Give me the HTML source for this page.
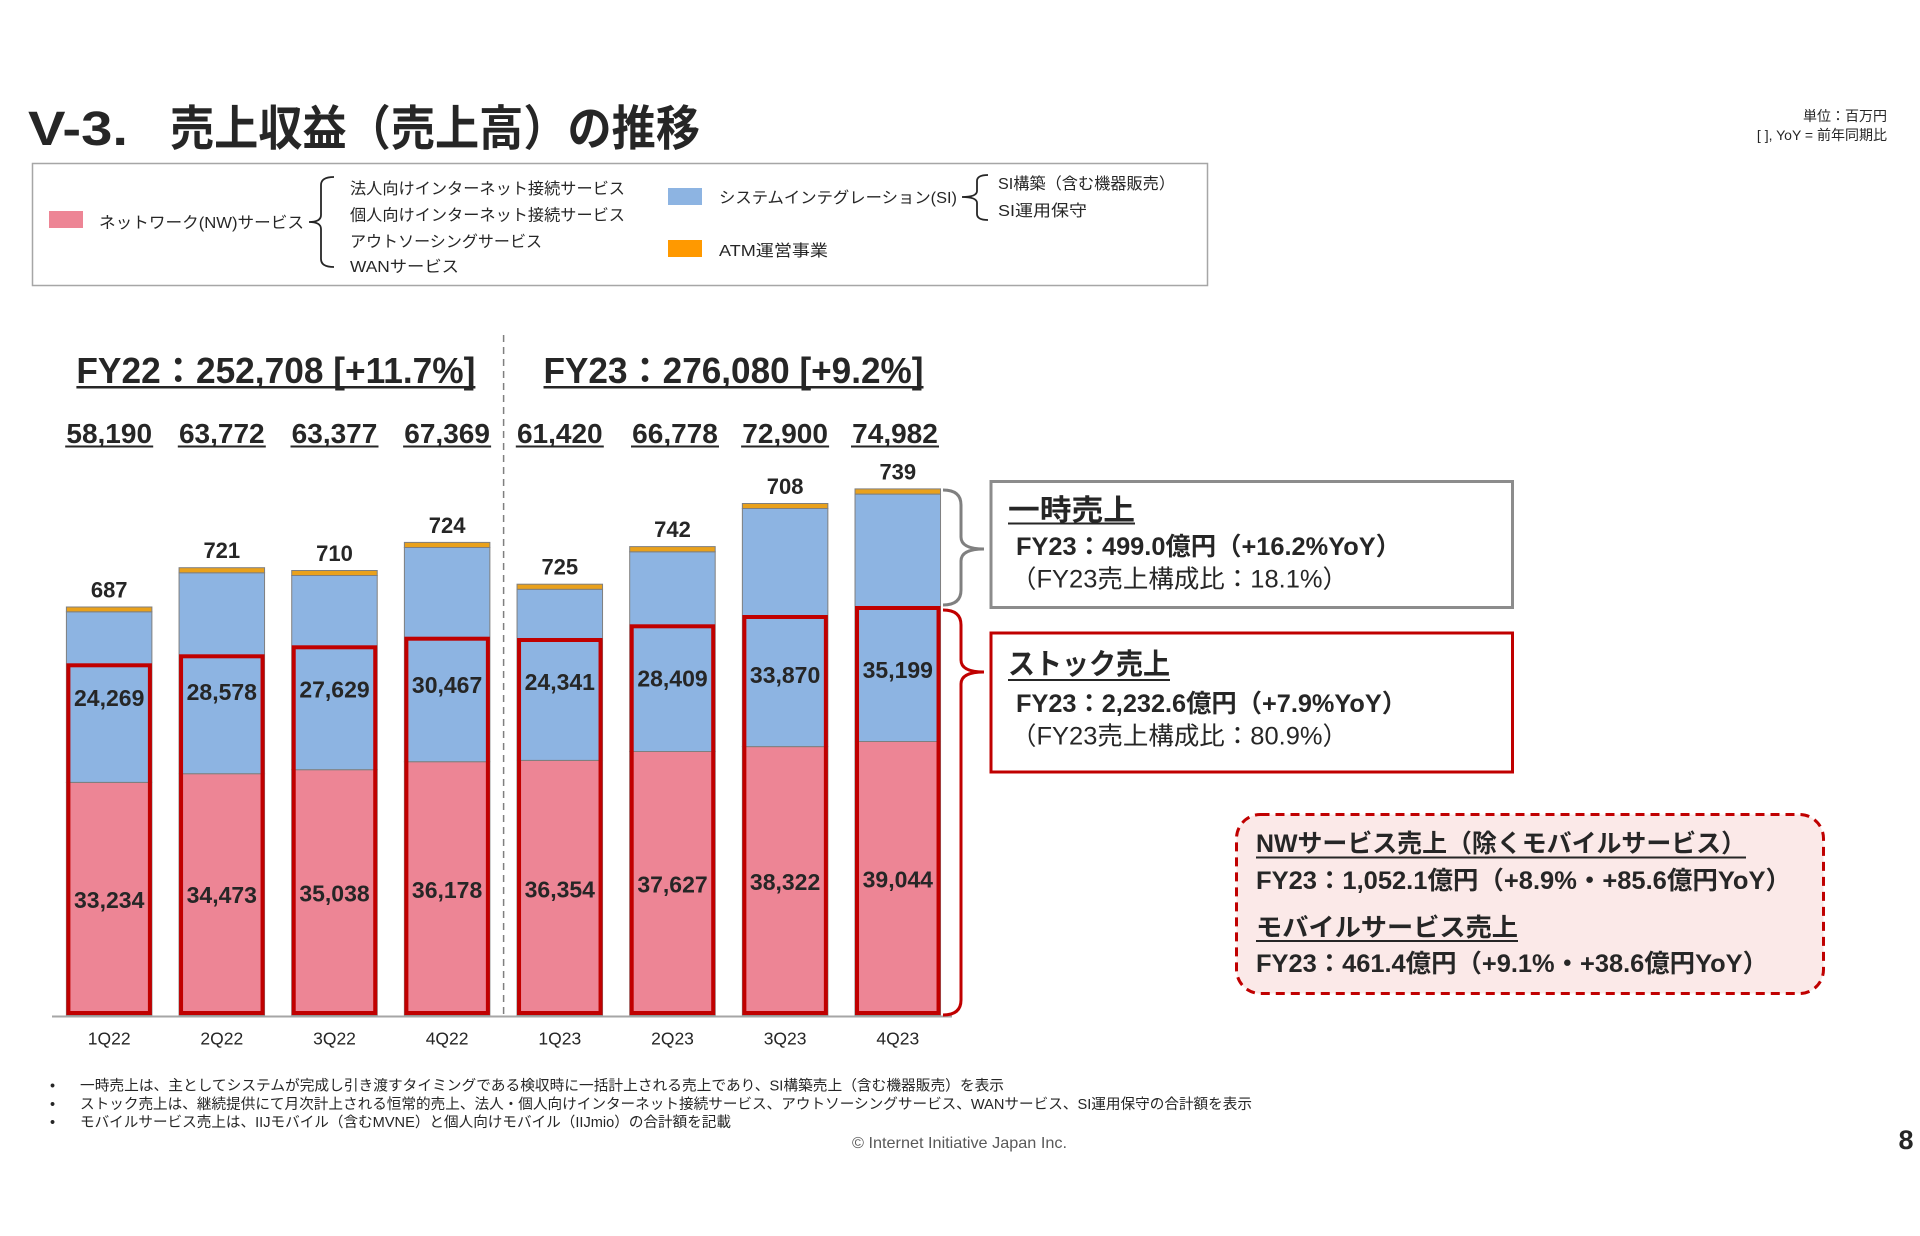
<!DOCTYPE html>
<html><head><meta charset="utf-8"><style>
html,body{margin:0;padding:0;background:#fff;}
svg{display:block;}
text{font-family:"Liberation Sans","Noto Sans CJK JP",sans-serif;fill:#262626;}
.b{font-weight:bold;}
</style></head><body>
<svg width="1920" height="1236" viewBox="0 0 1920 1236" xmlns="http://www.w3.org/2000/svg">
<!-- Title -->
<text x="28" y="145" font-size="48" class="b" textLength="100" lengthAdjust="spacingAndGlyphs">V-3.</text>
<text x="170" y="145" font-size="48" class="b" textLength="530" lengthAdjust="spacingAndGlyphs">売上収益（売上高）の推移</text>
<text x="1887" y="121" font-size="14" text-anchor="end">単位：百万円</text>
<text x="1887" y="140" font-size="14" text-anchor="end">[ ], YoY = 前年同期比</text>

<!-- Legend -->
<rect x="32.5" y="163.5" width="1175" height="122" fill="#fff" stroke="#A6A6A6" stroke-width="1.5"/>
<rect x="49" y="211" width="34" height="17" fill="#ED8595"/>
<text x="99" y="228" font-size="16" textLength="205" lengthAdjust="spacingAndGlyphs">ネットワーク(NW)サービス</text>
<path d="M334,177 Q321,177 321,185 L321,215 Q321,222 309,222 Q321,222 321,229 L321,259 Q321,267 334,267" fill="none" stroke="#262626" stroke-width="1.8"/>
<text x="350" y="194" font-size="16" textLength="275" lengthAdjust="spacingAndGlyphs">法人向けインターネット接続サービス</text>
<text x="350" y="220.5" font-size="16" textLength="275" lengthAdjust="spacingAndGlyphs">個人向けインターネット接続サービス</text>
<text x="350" y="247" font-size="16" textLength="192" lengthAdjust="spacingAndGlyphs">アウトソーシングサービス</text>
<text x="350" y="272" font-size="16" textLength="109" lengthAdjust="spacingAndGlyphs">WANサービス</text>
<rect x="668" y="188" width="34" height="17" fill="#8DB4E2"/>
<text x="719" y="203" font-size="16" textLength="238" lengthAdjust="spacingAndGlyphs">システムインテグレーション(SI)</text>
<path d="M988,175 Q977,175 977,181 L977,191 Q977,197 962,197 Q977,197 977,203 L977,214 Q977,220 988,220" fill="none" stroke="#262626" stroke-width="1.8"/>
<text x="998" y="189" font-size="16" textLength="177" lengthAdjust="spacingAndGlyphs">SI構築（含む機器販売）</text>
<text x="998" y="216" font-size="16" textLength="89" lengthAdjust="spacingAndGlyphs">SI運用保守</text>
<rect x="668" y="240" width="34" height="17" fill="#FF9900"/>
<text x="719" y="256" font-size="16" textLength="109" lengthAdjust="spacingAndGlyphs">ATM運営事業</text>

<!-- FY headings -->
<text x="76.4" y="383" font-size="36" class="b" textLength="399" lengthAdjust="spacingAndGlyphs">FY22：252,708 [+11.7%]</text>
<rect x="76.4" y="386" width="399" height="2.5" fill="#262626"/>
<text x="543.5" y="383" font-size="36" class="b" textLength="380" lengthAdjust="spacingAndGlyphs">FY23：276,080 [+9.2%]</text>
<rect x="543.5" y="386" width="380" height="2.5" fill="#262626"/>

<!-- Quarter totals -->
<g font-size="28" class="b" text-anchor="middle">
<text x="109.2" y="443">58,190</text>
<text x="221.8" y="443">63,772</text>
<text x="334.5" y="443">63,377</text>
<text x="447.1" y="443">67,369</text>
<text x="559.8" y="443">61,420</text>
<text x="675" y="443">66,778</text>
<text x="785.1" y="443">72,900</text>
<text x="895" y="443">74,982</text>
</g>
<g fill="#262626">
<rect x="65.2" y="445.5" width="88" height="2"/>
<rect x="177.8" y="445.5" width="88" height="2"/>
<rect x="290.5" y="445.5" width="88" height="2"/>
<rect x="403.1" y="445.5" width="88" height="2"/>
<rect x="515.8" y="445.5" width="88" height="2"/>
<rect x="631" y="445.5" width="88" height="2"/>
<rect x="741.1" y="445.5" width="88" height="2"/>
<rect x="851" y="445.5" width="88" height="2"/>
</g>

<!-- Dashed divider -->
<line x1="503.6" y1="335" x2="503.6" y2="1015" stroke="#7F7F7F" stroke-width="1.5" stroke-dasharray="7,5"/>

<!-- Bars -->
<g stroke="#7F7F7F" stroke-width="1">
<!-- bar1 -->
<rect x="66.4" y="782.4" width="85.5" height="232.6" fill="#ED8595"/>
<rect x="66.4" y="611.8" width="85.5" height="170.6" fill="#8DB4E2"/>
<rect x="66.4" y="607" width="85.5" height="4.8" fill="#E9A11C"/>
<!-- bar2 -->
<rect x="179.06" y="773.7" width="85.5" height="241.3" fill="#ED8595"/>
<rect x="179.06" y="572.8" width="85.5" height="200.9" fill="#8DB4E2"/>
<rect x="179.06" y="567.7" width="85.5" height="5.1" fill="#E9A11C"/>
<!-- bar3 -->
<rect x="291.72" y="769.7" width="85.5" height="245.3" fill="#ED8595"/>
<rect x="291.72" y="575.5" width="85.5" height="194.2" fill="#8DB4E2"/>
<rect x="291.72" y="570.5" width="85.5" height="5" fill="#E9A11C"/>
<!-- bar4 -->
<rect x="404.38" y="761.7" width="85.5" height="253.3" fill="#ED8595"/>
<rect x="404.38" y="547.5" width="85.5" height="214.2" fill="#8DB4E2"/>
<rect x="404.38" y="542.4" width="85.5" height="5.1" fill="#E9A11C"/>
<!-- bar5 -->
<rect x="517.04" y="760.4" width="85.5" height="254.6" fill="#ED8595"/>
<rect x="517.04" y="589.3" width="85.5" height="171.1" fill="#8DB4E2"/>
<rect x="517.04" y="584.2" width="85.5" height="5.1" fill="#E9A11C"/>
<!-- bar6 -->
<rect x="629.7" y="751.5" width="85.5" height="263.5" fill="#ED8595"/>
<rect x="629.7" y="551.8" width="85.5" height="199.7" fill="#8DB4E2"/>
<rect x="629.7" y="546.6" width="85.5" height="5.2" fill="#E9A11C"/>
<!-- bar7 -->
<rect x="742.36" y="746.6" width="85.5" height="268.4" fill="#ED8595"/>
<rect x="742.36" y="508.5" width="85.5" height="238.1" fill="#8DB4E2"/>
<rect x="742.36" y="503.5" width="85.5" height="5" fill="#E9A11C"/>
<!-- bar8 -->
<rect x="855.02" y="741.5" width="85.5" height="273.5" fill="#ED8595"/>
<rect x="855.02" y="494.1" width="85.5" height="247.4" fill="#8DB4E2"/>
<rect x="855.02" y="488.9" width="85.5" height="5.2" fill="#E9A11C"/>
</g>

<!-- Red stock boxes -->
<g fill="none" stroke="#C00000" stroke-width="4">
<rect x="68.4" y="665.3" width="81.5" height="347.7"/>
<rect x="181.06" y="656.3" width="81.5" height="356.7"/>
<rect x="293.72" y="647.3" width="81.5" height="365.7"/>
<rect x="406.38" y="638.7" width="81.5" height="374.3"/>
<rect x="519.04" y="640" width="81.5" height="373"/>
<rect x="631.7" y="626.3" width="81.5" height="386.7"/>
<rect x="744.36" y="617" width="81.5" height="396"/>
<rect x="857.02" y="608" width="81.5" height="405"/>
</g>

<!-- Axis -->
<line x1="52" y1="1016.5" x2="952" y2="1016.5" stroke="#A6A6A6" stroke-width="2"/>

<!-- ATM labels -->
<g font-size="22" class="b" text-anchor="middle">
<text x="109.2" y="597.4">687</text>
<text x="221.8" y="558.1">721</text>
<text x="334.5" y="560.9">710</text>
<text x="447.1" y="532.8">724</text>
<text x="559.8" y="574.6">725</text>
<text x="672.5" y="537">742</text>
<text x="785.1" y="493.9">708</text>
<text x="897.8" y="479.3">739</text>
</g>

<!-- SI labels -->
<g font-size="23" class="b" text-anchor="middle">
<text x="109.2" y="706.2">24,269</text>
<text x="221.8" y="699.9">28,578</text>
<text x="334.5" y="697.5">27,629</text>
<text x="447.1" y="693.2">30,467</text>
<text x="559.8" y="689.9">24,341</text>
<text x="672.5" y="686.5">28,409</text>
<text x="785.1" y="683.2">33,870</text>
<text x="897.8" y="678.2">35,199</text>
</g>
<!-- NW labels -->
<g font-size="23" class="b" text-anchor="middle">
<text x="109.2" y="908.2">33,234</text>
<text x="221.8" y="903.2">34,473</text>
<text x="334.5" y="901.5">35,038</text>
<text x="447.1" y="898.2">36,178</text>
<text x="559.8" y="897.5">36,354</text>
<text x="672.5" y="892.5">37,627</text>
<text x="785.1" y="889.9">38,322</text>
<text x="897.8" y="887.5">39,044</text>
</g>

<!-- Axis labels -->
<g font-size="17.5" text-anchor="middle" style="fill:#333">
<text x="109.2" y="1044.3">1Q22</text>
<text x="221.8" y="1044.3">2Q22</text>
<text x="334.5" y="1044.3">3Q22</text>
<text x="447.1" y="1044.3">4Q22</text>
<text x="559.8" y="1044.3">1Q23</text>
<text x="672.5" y="1044.3">2Q23</text>
<text x="785.1" y="1044.3">3Q23</text>
<text x="897.8" y="1044.3">4Q23</text>
</g>

<!-- Braces -->
<path d="M943,490 Q961,490 961,505 L961,537 Q961,549 984,549 Q961,549 961,561 L961,590 Q961,605 943,605" fill="none" stroke="#808080" stroke-width="3"/>
<path d="M943,610 Q961,610 961,625 L961,660 Q961,672 984,672 Q961,672 961,684 L961,1000 Q961,1015 943,1015" fill="none" stroke="#C00000" stroke-width="3"/>

<!-- One-time box -->
<rect x="991" y="481.5" width="521.5" height="126" fill="#fff" stroke="#8C8C8C" stroke-width="3"/>
<text x="1008" y="520" font-size="29" class="b" textLength="127" lengthAdjust="spacingAndGlyphs">一時売上</text>
<rect x="1008" y="522.5" width="127" height="2" fill="#262626"/>
<text x="1016" y="555" font-size="25" class="b" textLength="385" lengthAdjust="spacingAndGlyphs">FY23：499.0億円（+16.2%YoY）</text>
<text x="1011" y="587.5" font-size="25" textLength="337" lengthAdjust="spacingAndGlyphs">（FY23売上構成比：18.1%）</text>

<!-- Stock box -->
<rect x="991" y="633" width="521.5" height="139" fill="#fff" stroke="#C00000" stroke-width="3"/>
<text x="1008" y="674" font-size="29" class="b" textLength="162" lengthAdjust="spacingAndGlyphs">ストック売上</text>
<rect x="1008" y="679" width="162" height="2" fill="#262626"/>
<text x="1016" y="712" font-size="25" class="b" textLength="391" lengthAdjust="spacingAndGlyphs">FY23：2,232.6億円（+7.9%YoY）</text>
<text x="1011" y="744.5" font-size="25" textLength="337" lengthAdjust="spacingAndGlyphs">（FY23売上構成比：80.9%）</text>

<!-- NW / Mobile dashed box -->
<rect x="1236.5" y="814.5" width="587" height="179" rx="24" ry="24" fill="#FBE9E8" stroke="#C00000" stroke-width="3" stroke-dasharray="9,6"/>
<text x="1256" y="852" font-size="25" class="b" textLength="490" lengthAdjust="spacingAndGlyphs">NWサービス売上（除くモバイルサービス）</text>
<rect x="1256" y="856.5" width="490" height="2" fill="#262626"/>
<text x="1256" y="889" font-size="25" class="b" textLength="535" lengthAdjust="spacingAndGlyphs">FY23：1,052.1億円（+8.9%・+85.6億円YoY）</text>
<text x="1256" y="936" font-size="25" class="b" textLength="262" lengthAdjust="spacingAndGlyphs">モバイルサービス売上</text>
<rect x="1256" y="940" width="262" height="2" fill="#262626"/>
<text x="1256" y="972" font-size="25" class="b" textLength="512" lengthAdjust="spacingAndGlyphs">FY23：461.4億円（+9.1%・+38.6億円YoY）</text>

<!-- Footnotes -->
<g font-size="14.5">
<text x="50" y="1090.5">•</text>
<text x="50" y="1109">•</text>
<text x="50" y="1127">•</text>
<text x="80" y="1090.5" textLength="924" lengthAdjust="spacingAndGlyphs">一時売上は、主としてシステムが完成し引き渡すタイミングである検収時に一括計上される売上であり、SI構築売上（含む機器販売）を表示</text>
<text x="80" y="1109" textLength="1172" lengthAdjust="spacingAndGlyphs">ストック売上は、継続提供にて月次計上される恒常的売上、法人・個人向けインターネット接続サービス、アウトソーシングサービス、WANサービス、SI運用保守の合計額を表示</text>
<text x="80" y="1127" textLength="651" lengthAdjust="spacingAndGlyphs">モバイルサービス売上は、IIJモバイル（含むMVNE）と個人向けモバイル（IIJmio）の合計額を記載</text>
</g>
<text x="852" y="1148" font-size="16" style="fill:#595959" textLength="215" lengthAdjust="spacingAndGlyphs">© Internet Initiative Japan Inc.</text>
<text x="1906" y="1149" font-size="27" class="b" text-anchor="middle">8</text>
</svg>
</body></html>
